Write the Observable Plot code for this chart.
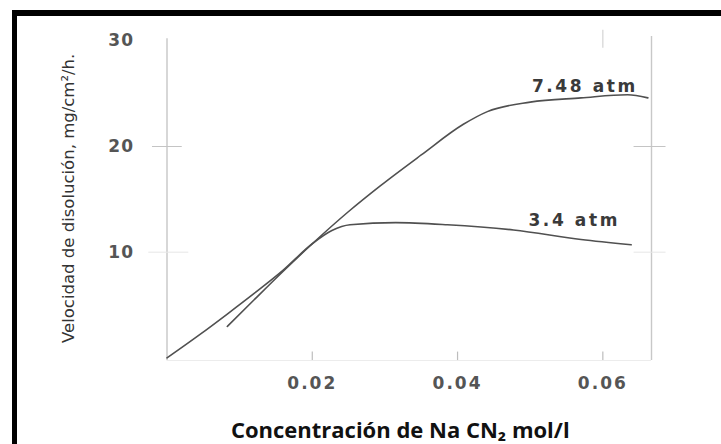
<!DOCTYPE html>
<html>
<head>
<meta charset="utf-8">
<script src="https://cdn.jsdelivr.net/npm/d3@7"></script>
<script src="https://cdn.jsdelivr.net/npm/@observablehq/plot@0.6"></script>
<style>
  html, body { margin: 0; padding: 0; background: #fff; }
  #wrap { position: relative; width: 721px; height: 444px; overflow: hidden; background: #fff; }
  #border { position: absolute; left: 12px; top: 10px; width: 800px; height: 600px;
            border-left: 5px solid #000; border-top: 6px solid #000; box-sizing: border-box; pointer-events: none; }
  #wrap svg { position: absolute; left: 0; top: 0; }
  g[aria-label="x-axis tick label"] text { letter-spacing: 2px; }
  g[aria-label="y-axis tick label"] text { letter-spacing: 1px; }
</style>
</head>
<body>
<div id="wrap"><div id="border"></div></div>
<script>
// Series: 7.48 atm
const x748 = [0.0083, 0.012, 0.016, 0.020, 0.025, 0.0294, 0.035, 0.0408, 0.0441, 0.050, 0.057, 0.0634, 0.0662];
const y748 = [2.97, 5.5, 8.2, 10.8, 13.85, 16.3, 19.2, 22.1, 23.3, 24.2, 24.6, 24.9, 24.6];
// Series: 3.4 atm
const x34 = [0, 0.0045, 0.0083, 0.012, 0.016, 0.020, 0.0227, 0.0252, 0.0315, 0.0386, 0.0477, 0.057, 0.0639];
const y34 = [0, 2.2, 4.15, 6.1, 8.3, 10.8, 12.05, 12.6, 12.8, 12.6, 12.1, 11.2, 10.7];
const seriesNames = ["7.48 atm", "3.4 atm"];

const xTicks = [0.02, 0.04, 0.06];
const yTicks = [10, 20, 30];
const xDomain = [0, 0.0667];
const yDomain = [0, 30];

const yTitle = "Velocidad de disolución, mg/cm²/h.";
const xTitle = "Concentración de Na CN₂ mol/l";

const d748 = x748.map((x, i) => ({x, y: y748[i], s: seriesNames[0]}));
const d34 = x34.map((x, i) => ({x, y: y34[i], s: seriesNames[1]}));

const lineColor = "#505050";
const frameColor = "#c8c8c8";
const tickFont = "DejaVu Sans, sans-serif";

const chart = Plot.plot({
  width: 721,
  height: 444,
  marginLeft: 166.5,
  marginRight: 70,
  marginTop: 40.3,
  marginBottom: 86.6,
  style: { background: "transparent", fontFamily: tickFont, overflow: "visible" },
  x: { domain: xDomain },
  y: { domain: yDomain },
  marks: [
    // frame lines
    Plot.ruleX([xDomain[0]], { y1: -0.25, y2: 30.2, stroke: "#bdbdbd", strokeWidth: 1.2 }),
    Plot.ruleX([xDomain[1]], { y1: -0.25, y2: 30.4, stroke: frameColor, strokeWidth: 1.4 }),
    Plot.ruleY([-0.25], { x1: xDomain[0], x2: xDomain[1], stroke: "#ececec", strokeWidth: 1 }),
    // x ticks (inward)
    Plot.ruleX(xTicks, { y1: -0.25, y2: 0.55, stroke: "#bdbdbd", strokeWidth: 1.2 }),
    Plot.ruleX([0.06], { y1: 29.3, y2: 31, stroke: "#d4d4d4", strokeWidth: 1.2 }),
    // y ticks crossing left and right frame lines
    Plot.ruleY([20], { x1: -0.002, x2: 0.0021, stroke: "#c4c4c4", strokeWidth: 1 }),
    Plot.ruleY([10], { x1: -0.0025, x2: 0.003, stroke: "#e6e6e6", strokeWidth: 1 }),
    Plot.ruleY([20], { x1: 0.0643, x2: 0.0687, stroke: "#c4c4c4", strokeWidth: 1 }),
    Plot.ruleY([10], { x1: 0.0643, x2: 0.0687, stroke: "#e6e6e6", strokeWidth: 1 }),
    // axes
    Plot.axisX({ ticks: xTicks, tickSize: 0, tickPadding: 19, tickFormat: d => d.toFixed(2),
      fontSize: 17, fontWeight: "bold", fill: "#555", label: null }),
    Plot.axisY({ ticks: yTicks, tickSize: 0, tickPadding: 33, fontSize: 17, fontWeight: "bold",
      fill: "#555", label: null }),
    // curves
    Plot.line(d748, { x: "x", y: "y", curve: "monotone-x", stroke: lineColor, strokeWidth: 1.6 }),
    Plot.line(d34, { x: "x", y: "y", curve: "monotone-x", stroke: lineColor, strokeWidth: 1.6 }),
    // curve labels
    Plot.text(d748, Plot.selectLast({ x: "x", y: "y", text: "s", dx: -63, dy: -11,
      fontSize: 17, fontWeight: "bold", fill: "#3a3a3a" })),
    Plot.text(d34, Plot.selectLast({ x: "x", y: "y", text: "s", dx: -57, dy: -24,
      fontSize: 17, fontWeight: "bold", fill: "#3a3a3a" })),
    // axis titles
    Plot.text([yTitle], { frameAnchor: "left", dx: -98.5, dy: -1, rotate: -90, textAnchor: "middle",
      lineAnchor: "middle", fontSize: 16.5, fill: "#333", fontFamily: tickFont }),
    Plot.text([xTitle], { frameAnchor: "bottom", dy: 73, dx: -9, textAnchor: "middle", lineAnchor: "middle",
      fontSize: 22, fontWeight: "bold", fill: "#111", fontFamily: "Open Sans, sans-serif" })
  ]
});
d3.select(chart).selectAll("text")
  .filter(function () { return seriesNames.includes(this.textContent); })
  .style("letter-spacing", "2.6px");
document.getElementById("wrap").appendChild(chart);
</script>
</body>
</html>
